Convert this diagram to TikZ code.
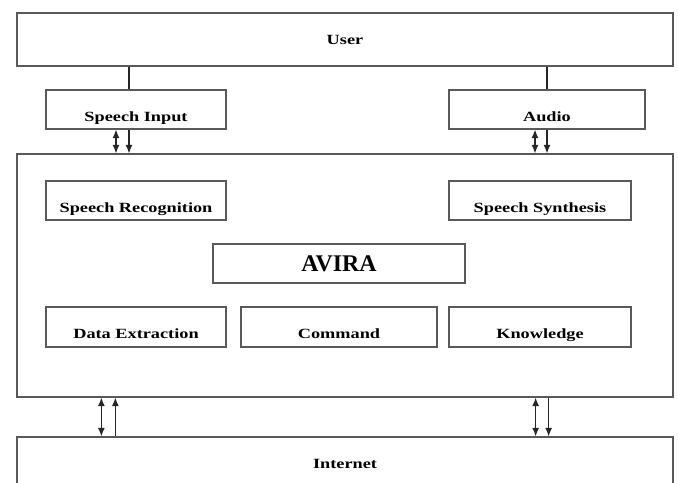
\documentclass[tikz,border=0pt]{standalone}
\usepackage{fontspec}
\setmainfont{Liberation Serif}
\newfontfamily\boxfont[FakeStretch=1.3]{Liberation Serif}
\usetikzlibrary{arrows.meta}
\begin{document}
\begin{tikzpicture}[>={Latex[length=2.1mm,width=1.7mm]},
		blk/.style={rectangle, draw=black!65, line width=0.9pt, font=\boxfont\fontsize{10}{12}\selectfont\bfseries},
		sub/.style={blk, minimum height=0.975cm, text height=0.58cm, text depth=0cm},
		wide/.style={blk, minimum width=16.4cm, minimum height=1.325cm},
		link/.style={draw=black!85, line width=0.75pt}]

		\clip (0,0) rectangle (16.95,-12.075);

		\node(user)[wide] at (8.625,-0.9875) {User};
		\node(speech-in)[sub, minimum width=4.5cm] at (3.4,-2.7375) {Speech Input};
		\node(audio)[sub, minimum width=4.9cm] at (13.675,-2.7375) {Audio};

		\node(main)[blk, minimum width=16.4cm, minimum height=6.075cm] at (8.625,-6.8875) {};
		\node(speech-rec)[sub, minimum width=4.5cm] at (3.4,-5.0125) {Speech Recognition};
		\node(speech-syn)[sub, minimum width=4.55cm] at (13.5,-5.0125) {Speech Synthesis};
		\node(avira)[blk, minimum width=6.3cm, minimum height=0.975cm, font=\fontsize{17}{20}\selectfont\bfseries] at (8.475,-6.5875) {AVIRA};
		\node(data-ext)[sub, minimum width=4.5cm, minimum height=1cm] at (3.4,-8.175) {Data Extraction};
		\node(command)[sub, minimum width=4.9cm, minimum height=1cm] at (8.475,-8.175) {Command};
		\node(knowledge)[sub, minimum width=4.55cm, minimum height=1cm] at (13.5,-8.175) {Knowledge};

		\node(internet)[wide] at (8.625,-11.5875) {Internet};


		\draw[link] ([xshift=-0.175cm]speech-in.north |- user.south) -- ([xshift=-0.175cm]speech-in.north);
		\draw[link] (user.south -| audio.north) -- (audio.north);

		\draw[<->, link] ([xshift=-0.5cm]speech-in.south) -- ([xshift=-0.5cm]speech-in.south |- main.north);
		\draw[->, link] ([xshift=-0.175cm]speech-in.south) -- ([xshift=-0.175cm]speech-in.south |- main.north);
		\draw[<->, link] ([xshift=-0.3cm]audio.south) -- ([xshift=-0.3cm]audio.south |- main.north);
		\draw[->, link] (audio.south) -- (audio.south |- main.north);

		\draw[<->, link] ([xshift=2.125cm]main.south west) -- ([xshift=2.125cm]main.south west |- internet.north);
		\draw[->, link] ([xshift=2.475cm]main.south west |- internet.north) -- ([xshift=2.475cm]main.south west);
		\draw[<->, link] ([xshift=-3.45cm]main.south east) -- ([xshift=-3.45cm]main.south east |- internet.north);
		\draw[->, link] ([xshift=-3.125cm]main.south east) -- ([xshift=-3.125cm]main.south east |- internet.north);
	\end{tikzpicture}
\end{document}
